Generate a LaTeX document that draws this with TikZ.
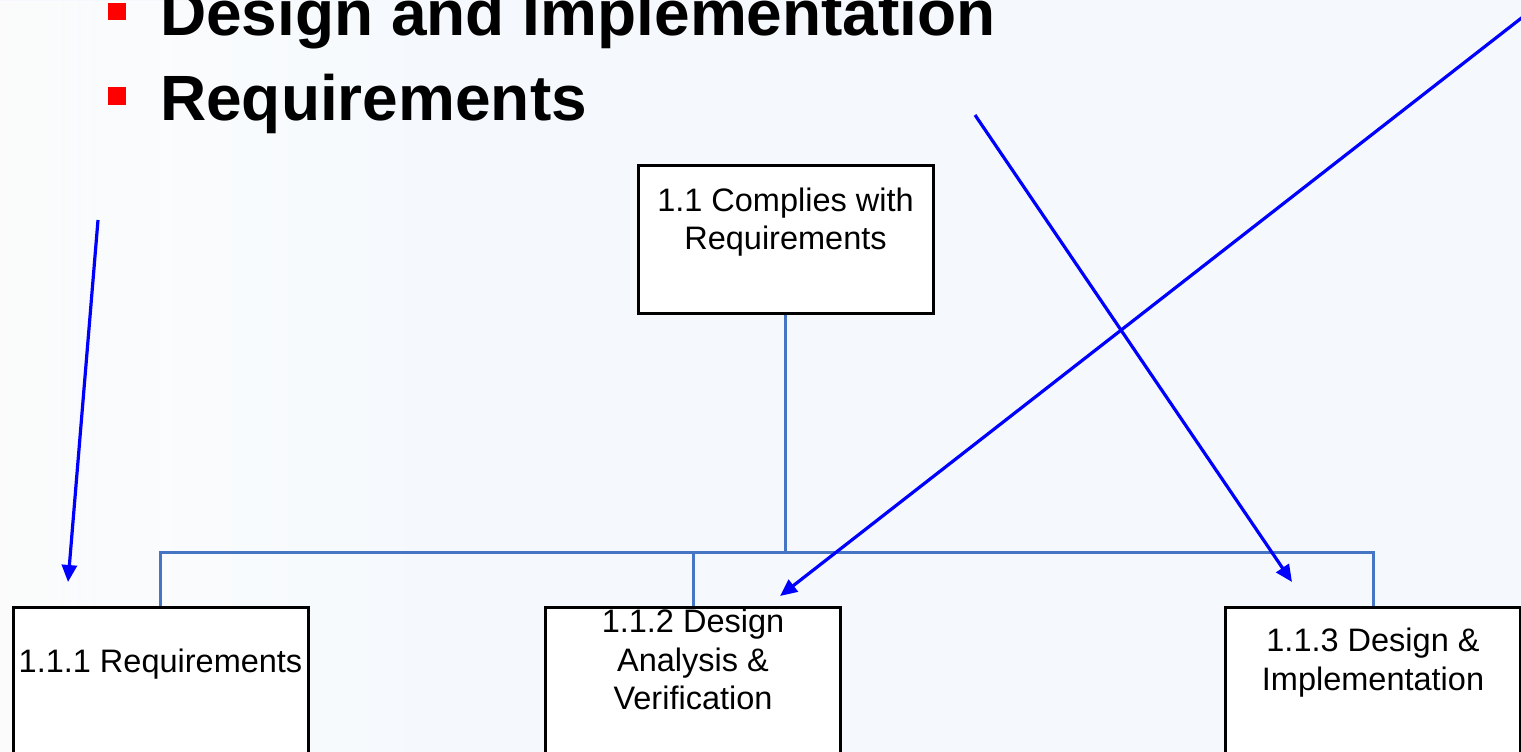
\documentclass[tikz,border=0pt]{standalone}
\usepackage{fontspec}
\setmainfont{Liberation Sans}
\usetikzlibrary{arrows.meta,fadings}
\definecolor{bg}{RGB}{245,249,253}
\definecolor{conn}{RGB}{70,117,196}
\definecolor{arr}{RGB}{0,0,255}
\definecolor{bul}{RGB}{255,0,0}
\tikzset{
  box/.style={draw=black, line width=3pt, fill=white, minimum width=295pt, minimum height=148pt, inner sep=0pt},
  boxtext/.style={font=\fontsize{32.5}{38.5}\selectfont, align=center, inner sep=0pt, text=black},
  title/.style={font=\fontsize{64}{70}\selectfont\bfseries, anchor=base west, inner sep=0pt},
  bullet/.style={fill=bul, minimum width=18pt, minimum height=17pt, inner sep=0pt},
  conline/.style={draw=conn, line width=3pt},
  pointer/.style={draw=arr, line width=3.2pt, -{Triangle[length=17pt,width=15pt]}}
}
\begin{document}
\begin{tikzpicture}[x=1pt,y=-1pt]
\useasboundingbox (0,0) rectangle (1521,752);
\clip (0,0) rectangle (1521,752);
% background
\fill[bg] (0,0) rectangle (1521,752);
\fill[gray!20, opacity=0.5, path fading=east] (0,0) rectangle (160,752);
\fill[white, opacity=0.8, path fading=east] (0,0) rectangle (460,752);
% title bullets
\node[bullet] (b1) at (117,12) {};
\node[bullet] (b2) at (117,96) {};
\node[title] (t1) at (160,36) {Design and Implementation};
\node[title] (t2) at (160,121) {Requirements};
% boxes
\node[box] (top) at (785.5,239) {};
\node[box] (r1) at (160.5,681) {};
\node[box] (r2) at (693,681) {};
\node[box] (r3) at (1373,681) {};
% texts
\node[boxtext, anchor=north] (ttop) at (785.5,187.5) {1.1 Complies with\\Requirements};
\node[boxtext, anchor=base] (tr1) at (160.5,672) {1.1.1 Requirements};
\node[boxtext, anchor=north] (tr2) at (693,609) {1.1.2 Design\\Analysis \&\\Verification};
\node[boxtext, anchor=north] (tr3) at (1373,628) {1.1.3 Design \&\\Implementation};
% connectors
\coordinate (hub) at (785.5,552);
\draw[conline] (top.south) -- (hub);
\draw[conline] (r1.north) |- (hub) -| (r3.north);
\draw[conline] (r2.north) -- (r2.north |- hub);
% blue arrows
\coordinate (a1s) at (98,220);
\coordinate (a1e) at (68,582);
\coordinate (a2s) at (1542,2);
\coordinate (a2e) at (780,596);
\coordinate (a3s) at (975,115);
\coordinate (a3e) at (1292,582);
\draw[pointer] (a1s) -- (a1e);
\draw[pointer] (a2s) -- (a2e);
\draw[pointer] (a3s) -- (a3e);
\end{tikzpicture}
\end{document}
